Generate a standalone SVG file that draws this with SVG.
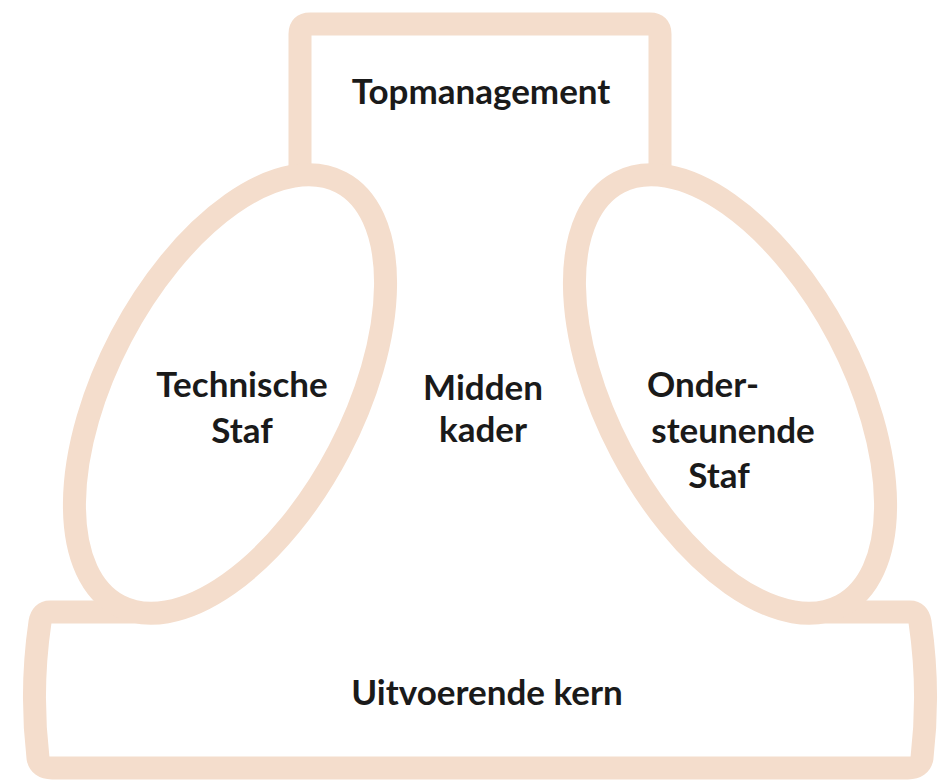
<svg xmlns="http://www.w3.org/2000/svg" width="952" height="782" viewBox="0 0 952 782">
<style>
.ring{fill:none;stroke:#f4ddcc;stroke-width:23;stroke-linejoin:round}
.oval{fill:#ffffff;stroke:#f4ddcc;stroke-width:23}
.lbl{font-family:Lato,"Open Sans","Liberation Sans",sans-serif;font-weight:700;font-size:35px;fill:#1a1a1a;text-anchor:middle}
</style>
<rect width="952" height="782" fill="#ffffff"/>
<g id="connectors"></g>
<g id="topmanagement">
<path class="ring" d="M300,210 V34 Q300,24 310,24 H650 Q660,24 660,34 V210"/>
<text class="lbl" x="481" y="104">Topmanagement</text>
</g>
<g id="uitvoerende-kern">
<path class="ring" d="M150,612 H50 Q42,612 40,622 Q30,690 38,758 Q40,768 52,768 H908 Q920,768 922,758 Q930,690 920,622 Q918,612 910,612 H810"/>
<text class="lbl" x="487" y="705">Uitvoerende kern</text>
</g>
<g id="technische-staf">
<ellipse class="oval" cx="230" cy="394" rx="123" ry="239" transform="rotate(27.7 230 394)"/>
<text class="lbl" x="242" y="397">Technische</text>
<text class="lbl" x="242" y="443">Staf</text>
</g>
<g id="ondersteunende-staf">
<ellipse class="oval" cx="730" cy="394" rx="123" ry="239" transform="rotate(-27.7 730 394)"/>
<text class="lbl" x="703" y="397">Onder-</text>
<text class="lbl" x="733" y="443">steunende</text>
<text class="lbl" x="719" y="488">Staf</text>
</g>
<g id="midden-kader">
<text class="lbl" x="483" y="400">Midden</text>
<text class="lbl" x="483" y="442">kader</text>
</g>
</svg>
